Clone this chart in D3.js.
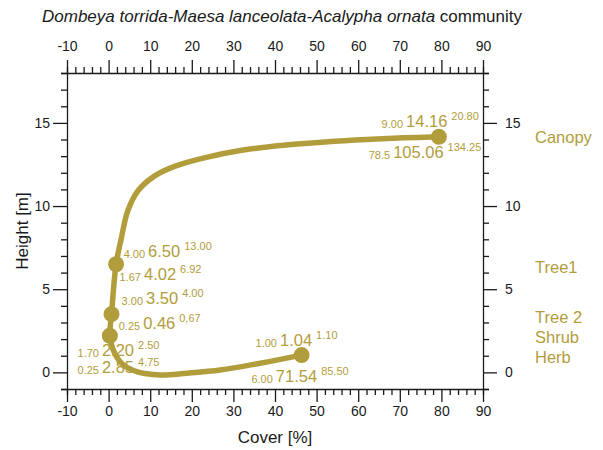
<!DOCTYPE html>
<html>
<head>
<meta charset="utf-8">
<script src="https://cdn.jsdelivr.net/npm/d3@7"></script>
<style>
  body { margin: 0; background: #fff; }
  text { font-family: "Liberation Sans", Arial, sans-serif; }
</style>
</head>
<body>
<script>
// layers, bottom to top
const layers = ["Herb", "Shrub", "Tree 2", "Tree1", "Canopy"];
// marker positions as drawn (cover axis, height axis)
const pointCover = [46.4, 0.3, 0.7, 1.8, 79.4];
const pointHeight = [1.04, 2.20, 3.50, 6.50, 14.16];
// annotation values
const heightMin = ["1.00", "1.70", "3.00", "4.00", "9.00"];
const heightMean = ["1.04", "2.20", "3.50", "6.50", "14.16"];
const heightMax = ["1.10", "2.50", "4.00", "13.00", "20.80"];
const coverMin = ["6.00", "0.25", "0.25", "1.67", "78.5"];
const coverMean = ["71.54", "2.85", "0.46", "4.02", "105.06"];
const coverMax = ["85.50", "4.75", "0,67", "6.92", "134.25"];
// profile curve, herb -> canopy
const curveCover = [46.4, 36.4, 26.8, 18.8, 12.4, 6.75, 3.1, 1.1, 0.3, 0.7, 1.8, 3.0, 4.6, 7, 11, 16, 23, 32, 42, 52, 62, 71, 79.4];
const curveHeight = [1.04, 0.55, 0.14, -0.05, -0.16, 0.04, 0.55, 1.35, 2.2, 3.5, 6.5, 8.0, 9.7, 10.9, 11.8, 12.4, 12.9, 13.35, 13.65, 13.85, 14.0, 14.1, 14.16];
// axis ticks
const xTicks = d3.range(-10, 91, 2);
const xLabels = [-10, 0, 10, 20, 30, 40, 50, 60, 70, 80, 90];
const yTicks = d3.range(-1, 19, 1);
const yLabels = [0, 5, 10, 15];

// layout: left/baseline of the big numbers, in axis units
const heightLabelAt = [[41.2, 1.59], [-1.6, 0.99], [9.0, 4.11], [9.5, 6.94], [71.5, 14.76]];
const coverLabelAt = [[40.2, -0.58], [-1.6, -0.04], [8.3, 2.61], [8.5, 5.56], [68.4, 12.89]];
const layerLabelAt = [0.57, 1.77, 2.97, 5.97, 13.8];

const W = 603, H = 450;
const gold = "#b29d3c";
const ink = "#1a1a1a";

const x = d3.scaleLinear().domain([-10, 90]).range([67, 483]);
const y = d3.scaleLinear().domain([-1, 18]).range([389, 73]);

const svg = d3.select("body").append("svg").attr("width", W).attr("height", H);

// title
const title = svg.append("text").attr("x", 42).attr("y", 22)
    .attr("font-size", 17).attr("fill", ink);
title.append("tspan").attr("font-style", "italic")
    .text("Dombeya torrida-Maesa lanceolata-Acalypha ornata");
title.append("tspan").text(" community");

function styleAxis(g, isMajor) {
    g.select(".domain").attr("stroke", ink).attr("stroke-width", 1.3);
    g.selectAll(".tick line").attr("stroke", ink).attr("stroke-width", 1.3);
    g.selectAll(".tick text")
        .attr("font-family", "DejaVu Sans, sans-serif")
        .attr("font-size", 14).attr("fill", ink)
        .text(d => isMajor(d) ? d : "");
}

const xMajor = d => xLabels.includes(d);
const yMajor = d => yLabels.includes(d);

const axBottom = svg.append("g").attr("transform", `translate(0,${y.range()[0]})`)
    .call(d3.axisBottom(x).tickValues(xTicks).tickSizeOuter(0).tickSize(6));
axBottom.selectAll(".tick line").attr("y2", d => xMajor(d) ? 13 : 6);
axBottom.selectAll(".tick text").attr("y", 17);
styleAxis(axBottom, xMajor);

const axTop = svg.append("g").attr("transform", `translate(0,${y.range()[1]})`)
    .call(d3.axisTop(x).tickValues(xTicks).tickSizeOuter(0).tickSize(6));
axTop.selectAll(".tick line").attr("y2", d => xMajor(d) ? -13 : -6);
axTop.selectAll(".tick text").attr("y", -22);
styleAxis(axTop, xMajor);

const axLeft = svg.append("g").attr("transform", `translate(${x.range()[0]},0)`)
    .call(d3.axisLeft(y).tickValues(yTicks).tickSizeOuter(0).tickSize(6));
axLeft.selectAll(".tick line").attr("x2", d => yMajor(d) ? -14 : -6);
axLeft.selectAll(".tick text").attr("x", -17);
styleAxis(axLeft, yMajor);

const axRight = svg.append("g").attr("transform", `translate(${x.range()[1]},0)`)
    .call(d3.axisRight(y).tickValues(yTicks).tickSizeOuter(0).tickSize(6));
axRight.selectAll(".tick line").attr("x2", d => yMajor(d) ? 14 : 6);
axRight.selectAll(".tick text").attr("x", 22);
styleAxis(axRight, yMajor);

// axis titles
svg.append("text").attr("x", (x.range()[0] + x.range()[1]) / 2).attr("y", 443)
    .attr("text-anchor", "middle").attr("font-size", 17).attr("fill", ink)
    .text("Cover [%]");
svg.append("text")
    .attr("transform", `translate(28,${(y.range()[0] + y.range()[1]) / 2}) rotate(-90)`)
    .attr("text-anchor", "middle").attr("font-size", 17).attr("fill", ink)
    .text("Height [m]");

// annotations (drawn under the curve)
const ann = svg.append("g").attr("fill", gold);
function triple(at, lo, mid, hi) {
    const bx = x(at[0]), by = y(at[1]);
    const big = ann.append("text").attr("x", bx).attr("y", by)
        .attr("font-size", 16.5).text(mid);
    const w = big.node().getComputedTextLength();
    ann.append("text").attr("x", bx - 3).attr("y", by + 1)
        .attr("text-anchor", "end").attr("font-size", 11).text(lo);
    ann.append("text").attr("x", bx + w + 4).attr("y", by - 7)
        .attr("font-size", 11).text(hi);
}
layers.forEach((l, i) => {
    triple(heightLabelAt[i], heightMin[i], heightMean[i], heightMax[i]);
    triple(coverLabelAt[i], coverMin[i], coverMean[i], coverMax[i]);
});

// layer names on the right
svg.append("g").selectAll("text").data(layers).join("text")
    .attr("x", x.range()[1] + 52)
    .attr("y", (d, i) => y(layerLabelAt[i]))
    .attr("font-size", 16.5).attr("fill", gold)
    .text(d => d);

// profile curve
const line = d3.line()
    .x(d => x(d[0])).y(d => y(d[1]))
    .curve(d3.curveCatmullRom.alpha(0.5));
svg.append("path")
    .datum(d3.zip(curveCover, curveHeight))
    .attr("d", line)
    .attr("fill", "none").attr("stroke", gold)
    .attr("stroke-width", 5.5).attr("stroke-linecap", "round").attr("stroke-linejoin", "round");

svg.append("g").selectAll("circle").data(d3.zip(pointCover, pointHeight)).join("circle")
    .attr("cx", d => x(d[0])).attr("cy", d => y(d[1])).attr("r", 8)
    .attr("fill", gold);
</script>
</body>
</html>
